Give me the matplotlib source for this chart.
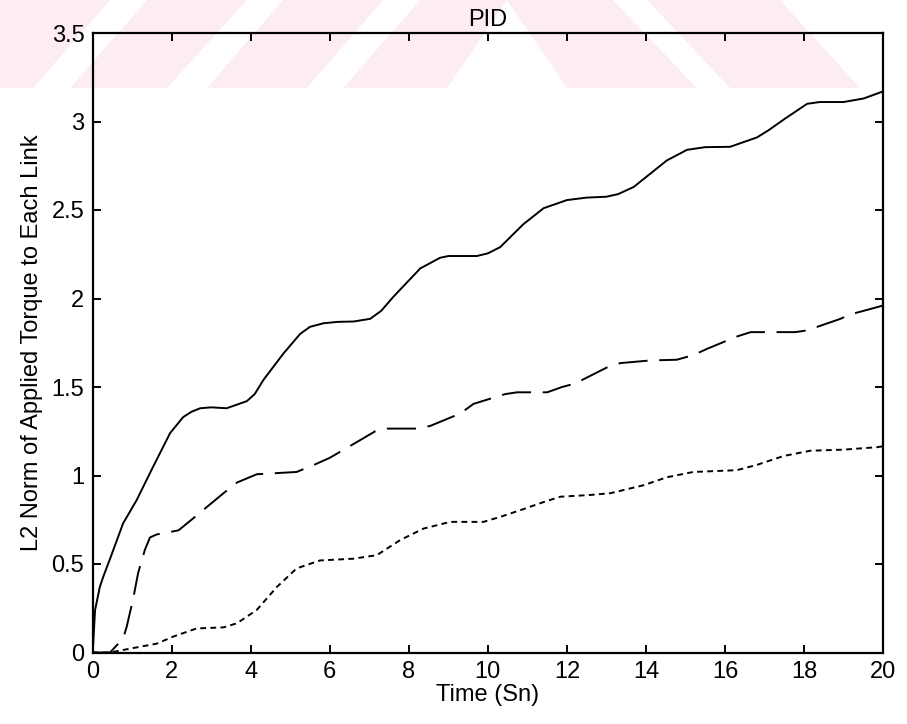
import numpy as np
import matplotlib
matplotlib.use("Agg")
import matplotlib.pyplot as plt
from matplotlib.patches import Polygon

# %% data (time in s, L2 norm)
t_solid = [0, 0.06, 0.18, 0.27, 0.44, 0.77, 1.11, 1.53, 1.96, 2.29, 2.5, 2.72, 3.0, 3.39,
           3.9, 4.1, 4.32, 4.83, 5.25, 5.5, 5.84, 6.2, 6.6, 7.02, 7.3, 7.61, 8.29, 8.79, 9.0,
           9.72, 10.0, 10.31, 10.9, 11.41, 12.0, 12.5, 13.0, 13.3, 13.69, 14.53, 15.04,
           15.5, 16.13, 16.81, 17.1, 17.48, 18.08, 18.4, 19.0, 19.51, 20.0]
y_solid = [0, 0.24, 0.37, 0.43, 0.53, 0.73, 0.86, 1.05, 1.24, 1.33, 1.36, 1.38, 1.385, 1.38,
           1.42, 1.46, 1.54, 1.69, 1.80, 1.84, 1.86, 1.868, 1.87, 1.885, 1.93, 2.01, 2.17, 2.23,
           2.24, 2.24, 2.255, 2.29, 2.42, 2.51, 2.556, 2.57, 2.575, 2.59, 2.63, 2.78, 2.84,
           2.855, 2.857, 2.91, 2.95, 3.01, 3.10, 3.11, 3.11, 3.13, 3.17]

t_dash = [0, 0.44, 0.77, 0.86, 1.03, 1.15, 1.32, 1.45, 1.62, 2.17, 2.5, 3.31, 3.65, 4.15,
          5.16, 5.6, 6.0, 6.77, 7.15, 7.45, 8.24, 8.54, 9.3, 9.64, 10.44, 10.74, 11.5, 11.88,
          12.21, 13.01, 13.35, 14.11, 14.78, 15.2, 15.54, 16.3, 16.65, 17.78, 18.08, 18.92,
          19.17, 20.0]
y_dash = [0, 0, 0.08, 0.145, 0.31, 0.45, 0.58, 0.65, 0.667, 0.69, 0.75, 0.90, 0.96, 1.007,
          1.02, 1.06, 1.10, 1.20, 1.25, 1.265, 1.265, 1.28, 1.35, 1.405, 1.46, 1.47, 1.47, 1.50,
          1.52, 1.61, 1.635, 1.65, 1.654, 1.68, 1.715, 1.785, 1.81, 1.81, 1.82, 1.885,
          1.91, 1.96]

t_dot = [0, 0.44, 1.02, 1.62, 2.04, 2.63, 3.31, 3.65, 4.15, 4.66, 5.16, 5.75, 6.6, 7.19,
         7.78, 8.37, 9.05, 9.89, 10.31, 10.9, 11.41, 11.83, 12.59, 13.1, 13.94, 14.53, 15.2,
         16.3, 16.81, 17.48, 18.16, 19.0, 19.85, 20.0]
y_dot = [0, 0, 0.025, 0.05, 0.09, 0.136, 0.142, 0.165, 0.24, 0.37, 0.475, 0.52, 0.53, 0.55,
         0.635, 0.70, 0.738, 0.738, 0.766, 0.81, 0.85, 0.88, 0.89, 0.90, 0.945, 0.99, 1.02,
         1.03, 1.06, 1.11, 1.14, 1.146, 1.16, 1.165]

x_ticks = list(range(0, 21, 2))
y_ticks = [0, 0.5, 1, 1.5, 2, 2.5, 3, 3.5]
y_tick_labels = ["0", "0.5", "1", "1.5", "2", "2.5", "3", "3.5"]

# %% figure
plt.rcParams['font.family'] = ['Liberation Sans', 'DejaVu Sans']
W, H = 907, 724
fig = plt.figure(figsize=(W / 100, H / 100), dpi=100)

# faint pink watermark stripes across the top (figure pixels, y measured from top)
pink = "#fdedf0"
band = 88
def fig_poly(pts):
    return Polygon([(x / W, 1 - y / H) for x, y in pts], closed=True,
                   transform=fig.transFigure, facecolor=pink, edgecolor="none", zorder=-1)
wm = [[(-140, band), (33, band), (110, 0), (-63, 0)],
      [(70, band), (167, band), (247, 0), (147, 0)],
      [(207, band), (307, band), (383, 0), (283, 0)],
      [(343, band), (447, band), (507, 0), (420, 0)],
      [(507, 0), (613, 0), (697, band), (567, band)],
      [(647, 0), (780, 0), (860, band), (730, band)]]
for p in wm:
    fig.patches.append(fig_poly(p))

ax = fig.add_axes([92.7 / W, 1 - 652.5 / H, (883 - 92.7) / W, (652.5 - 33) / H])
ax.set_facecolor("none")

ax.plot(t_solid, y_solid, color="black", lw=1.4, linestyle="-")
ax.plot(t_dash, y_dash, color="black", lw=1.4, linestyle=(0, (15, 6)))
ax.plot(t_dot, y_dot, color="black", lw=1.4, linestyle=(0, (3, 2.2)))

ax.set_xlim(0, 20)
ax.set_ylim(0, 3.5)
ax.set_xticks(x_ticks)
ax.set_yticks(y_ticks)
ax.set_yticklabels(y_tick_labels)
ax.tick_params(direction="in", length=6, width=1.4, top=True, right=True,
               labelsize=17, pad=6)
for s in ax.spines.values():
    s.set_linewidth(1.6)

ax.set_title("PID", fontsize=17, pad=5)
ax.set_xlabel("Time (Sn)", fontsize=17, labelpad=1)
ax.set_ylabel("L2 Norm of Applied Torque to Each Link", fontsize=17, labelpad=6)

fig.savefig("out.png", dpi=100)
